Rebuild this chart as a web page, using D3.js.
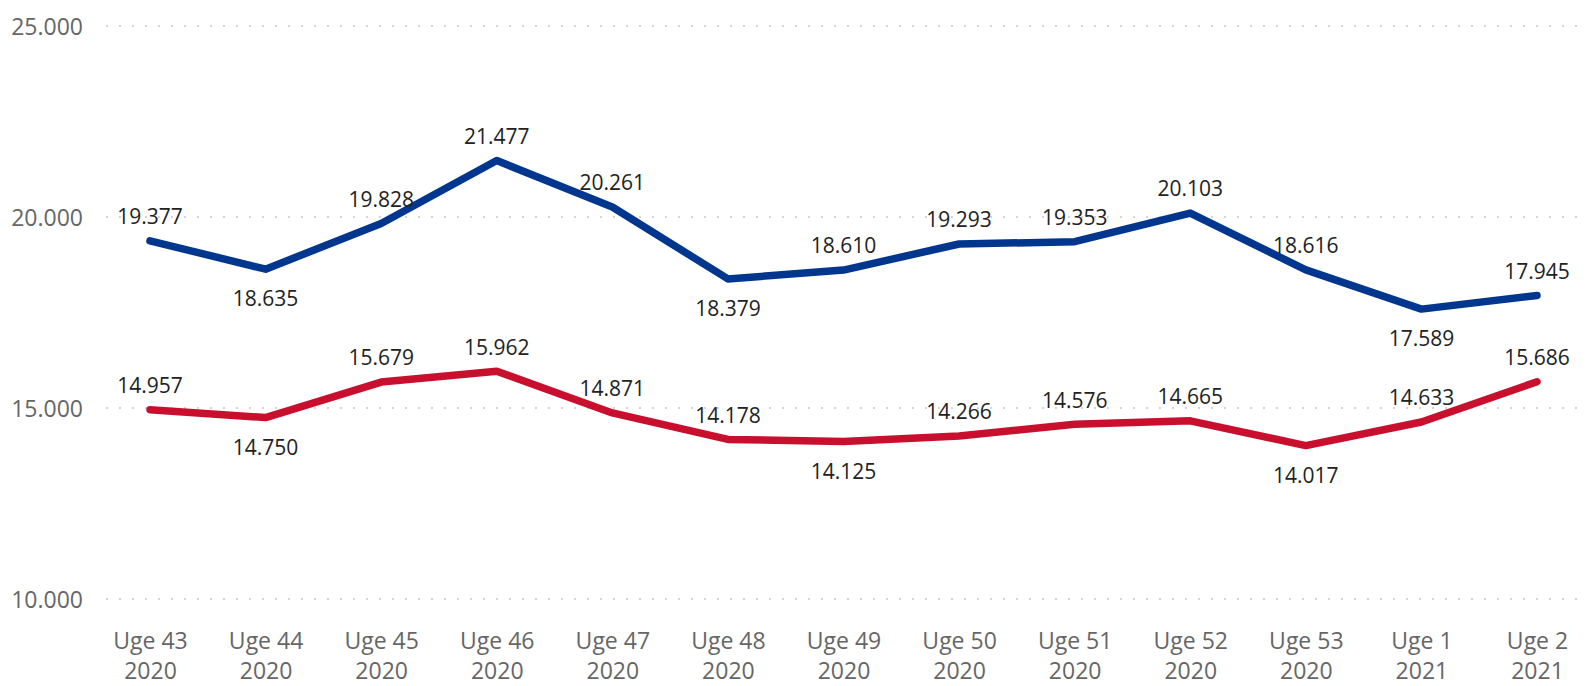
<!DOCTYPE html>
<html>
<head>
<meta charset="utf-8">
<script src="https://cdn.jsdelivr.net/npm/d3@7"></script>
<style>
  html, body { margin: 0; padding: 0; background: #fff; }
  svg { display: block; }
  text { font-family: "Open Sans", "Noto Sans", sans-serif; }
</style>
</head>
<body>
<svg id="chart" width="1592" height="686"></svg>
<script>
const weeks = ["Uge 43","Uge 44","Uge 45","Uge 46","Uge 47","Uge 48","Uge 49","Uge 50","Uge 51","Uge 52","Uge 53","Uge 1","Uge 2"];
const years = ["2020","2020","2020","2020","2020","2020","2020","2020","2020","2020","2020","2021","2021"];
const blueValues = [19377,18635,19828,21477,20261,18379,18610,19293,19353,20103,18616,17589,17945];
const redValues = [14957,14750,15679,15962,14871,14178,14125,14266,14576,14665,14017,14633,15686];
const yTicks = [10000,15000,20000,25000];

const categories = weeks.map((w, i) => w + " " + years[i]);
const series = [
  { name: "blue", values: blueValues, color: "#00368E" },
  { name: "red", values: redValues, color: "#C8102E" }
];

const svg = d3.select("#chart");
const x = d3.scalePoint().domain(categories).range([150, 1537]);
const y = d3.scaleLinear().domain([10000, 25000]).range([599, 26]);

const fmt = v => d3.format(",")(v).replace(/,/g, ".");

// gridlines
svg.append("g").selectAll("line").data(yTicks).join("line")
  .attr("x1", 107).attr("x2", 1584)
  .attr("y1", d => y(d)).attr("y2", d => y(d))
  .attr("stroke", "#c6c6c6").attr("stroke-width", 2)
  .attr("stroke-linecap", "round").attr("stroke-dasharray", "0 13");

// y axis
const yAxis = d3.axisLeft(y).tickValues(yTicks).tickSize(0).tickPadding(0).tickFormat(fmt);
const gy = svg.append("g").attr("transform", "translate(83,0)").call(yAxis);
gy.select(".domain").remove();
gy.selectAll("text").attr("fill", "#666").style("font-size", "23px")
  .style("font-family", "'Open Sans', sans-serif").attr("dy", "0.35em");

// x axis
const xAxis = d3.axisBottom(x).tickSize(0).tickFormat(() => "");
const gx = svg.append("g").attr("transform", "translate(0,610)").call(xAxis);
gx.select(".domain").remove();
gx.selectAll(".tick").each(function(d, i) {
  const t = d3.select(this).select("text").text(null)
    .attr("y", 0).attr("dy", null)
    .attr("fill", "#666").style("font-size", "23px")
    .style("font-family", "'Open Sans', sans-serif");
  t.append("tspan").attr("x", 0).attr("y", 39).text(weeks[i]);
  t.append("tspan").attr("x", 0).attr("y", 69).text(years[i]);
});

// lines
const line = d3.line().x((d, i) => x(categories[i])).y(d => y(d));
svg.append("g").selectAll("path").data(series).join("path")
  .attr("d", s => line(s.values))
  .attr("fill", "none")
  .attr("stroke", s => s.color)
  .attr("stroke-width", 7.5)
  .attr("stroke-linejoin", "round")
  .attr("stroke-linecap", "round");

// data labels
series.forEach(s => {
  const vals = s.values;
  const isMin = i => i > 0 && i < vals.length - 1 && vals[i] < vals[i-1] && vals[i] < vals[i+1];
  svg.append("g").selectAll("text").data(vals).join("text")
    .attr("x", (d, i) => x(categories[i]))
    .attr("y", (d, i) => y(d) + (isMin(i) ? 30 : -24))
    .attr("dy", "0.35em")
    .attr("text-anchor", "middle")
    .attr("fill", "#222")
    .style("font-size", "21px")
    .text(d => fmt(d));
});
</script>
</body>
</html>
